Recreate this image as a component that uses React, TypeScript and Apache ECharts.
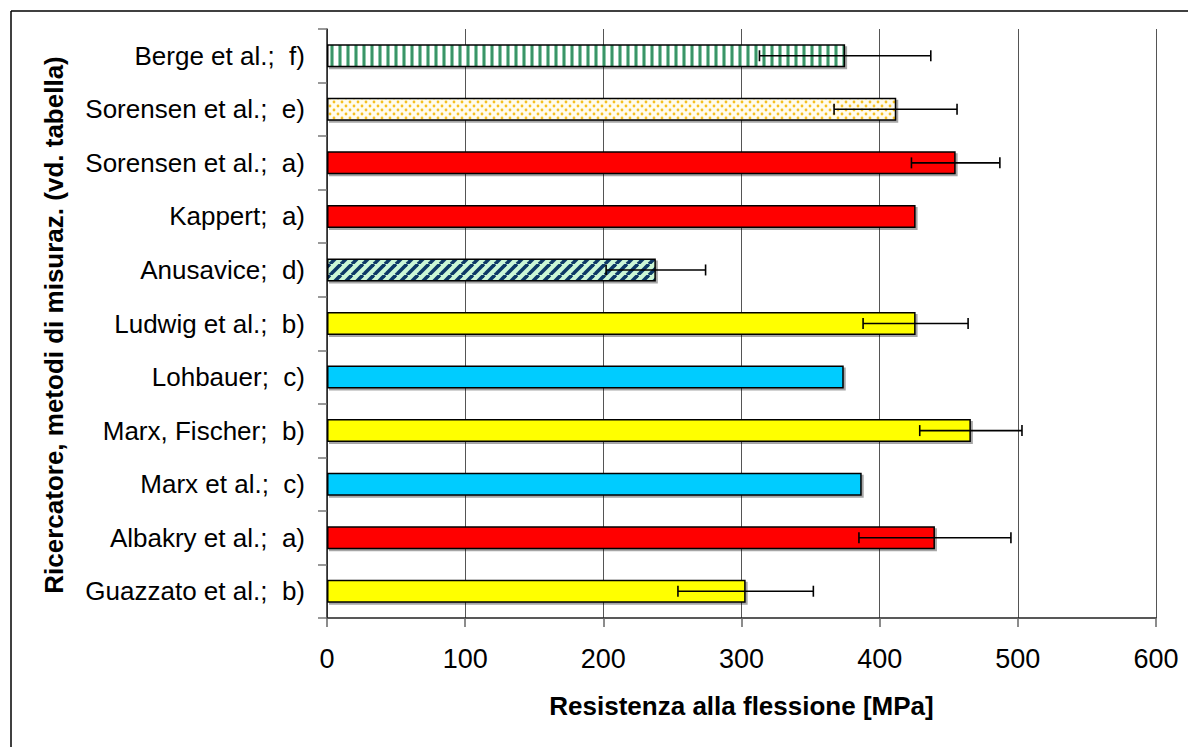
import React, { useEffect, useRef } from "react";
import * as echarts from "echarts";

const categories = [
  "Berge et al.;  f)",
  "Sorensen et al.;  e)",
  "Sorensen et al.;  a)",
  "Kappert;  a)",
  "Anusavice;  d)",
  "Ludwig et al.;  b)",
  "Lohbauer;  c)",
  "Marx, Fischer;  b)",
  "Marx et al.;  c)",
  "Albakry et al.;  a)",
  "Guazzato et al.;  b)",
];
const values = [375, 412, 455, 426, 238, 426, 374, 466, 387, 440, 303];
const errLow = [313, 367, 423, null, 202, 388, null, 429, null, 385, 254];
const errHigh = [437, 456, 487, null, 274, 464, null, 503, null, 495, 352];
const fills = ["stripes", "dots", "red", "red", "diag", "yellow", "cyan", "yellow", "cyan", "red", "yellow"];
const xMin = 0;
const xMax = 600;
const xStep = 100;
const xTitle = "Resistenza alla flessione [MPa]";
const yTitle = "Ricercatore, metodi di misuraz. (vd. tabella)";

function makeCanvas(w: number, h: number, draw: (c: CanvasRenderingContext2D) => void) {
  const cv = document.createElement("canvas");
  cv.width = w;
  cv.height = h;
  const ctx = cv.getContext("2d")!;
  draw(ctx);
  return cv;
}

function buildPatterns() {
  const stripes = makeCanvas(8, 8, (c) => {
    c.fillStyle = "#ffffff";
    c.fillRect(0, 0, 8, 8);
    c.fillStyle = "#8fcbab";
    c.fillRect(2, 0, 4, 8);
    c.fillStyle = "#3a9468";
    c.fillRect(3, 0, 2, 8);
  });
  const dots = makeCanvas(8, 8, (c) => {
    c.fillStyle = "#fffcee";
    c.fillRect(0, 0, 8, 8);
    c.fillStyle = "#f5c020";
    c.beginPath();
    c.arc(2, 2, 1.4, 0, Math.PI * 2);
    c.fill();
    c.beginPath();
    c.arc(6, 6, 1.4, 0, Math.PI * 2);
    c.fill();
  });
  const diag = makeCanvas(11, 11, (c) => {
    c.fillStyle = "#ccf7d6";
    c.fillRect(0, 0, 11, 11);
    c.strokeStyle = "#0a3766";
    c.lineWidth = 3.6;
    for (const off of [-11, 0, 11]) {
      c.beginPath();
      c.moveTo(off, 11);
      c.lineTo(off + 11, 0);
      c.stroke();
    }
  });
  return {
    stripes: { image: stripes, repeat: "repeat" },
    dots: { image: dots, repeat: "repeat" },
    diag: { image: diag, repeat: "repeat" },
    red: "#ff0000",
    yellow: "#ffff00",
    cyan: "#00ccff",
  } as Record<string, any>;
}

export default function App() {
  const ref = useRef<HTMLDivElement>(null);
  useEffect(() => {
    if (!ref.current) return;
    const chart = echarts.init(ref.current, undefined, { renderer: "svg" });
    const pats = buildPatterns();
    const font = "'Liberation Sans', Arial, Helvetica, sans-serif";
    const barData = values.map((v, i) => ({
      value: v,
      itemStyle: { color: pats[fills[i]] },
    }));
    const errData: any[] = [];
    categories.forEach((c, i) => {
      if (errLow[i] != null && errHigh[i] != null) errData.push([errLow[i], i, errHigh[i]]);
    });
    chart.setOption({
      animation: false,
      backgroundColor: "#ffffff",
      textStyle: { fontFamily: font },
      grid: { left: 327, right: 32, top: 29, bottom: 129, containLabel: false },
      xAxis: {
        type: "value",
        min: xMin,
        max: xMax,
        interval: xStep,
        name: xTitle,
        nameLocation: "middle",
        nameGap: 75,
        nameTextStyle: { fontSize: 26, fontWeight: "bold", color: "#000", fontFamily: font },
        axisLine: { show: true, lineStyle: { color: "#222", width: 1.5 } },
        axisTick: { show: true, length: 9, lineStyle: { color: "#666", width: 1.5 } },
        axisLabel: { fontSize: 27, color: "#000", margin: 27, fontFamily: font },
        splitLine: { show: true, lineStyle: { color: "#555", width: 1 } },
      },
      yAxis: {
        type: "category",
        data: categories,
        inverse: true,
        axisLine: { show: true, lineStyle: { color: "#222", width: 1.5 } },
        axisTick: { show: true, length: 9, lineStyle: { color: "#777", width: 1.5 } },
        axisLabel: { fontSize: 26, color: "#000", margin: 22, fontFamily: font },
        splitLine: { show: false },
      },
      graphic: [
        { type: "line", shape: { x1: 11, y1: 11, x2: 1188, y2: 11 }, style: { stroke: "#000", lineWidth: 1.5 } },
        { type: "line", shape: { x1: 11, y1: 11, x2: 11, y2: 747 }, style: { stroke: "#000", lineWidth: 1.5 } },
        {
          type: "text",
          x: 54,
          y: 325,
          rotation: Math.PI / 2,
          style: {
            text: yTitle,
            fontSize: 26,
            fontWeight: "bold",
            fill: "#000",
            fontFamily: font,
            align: "center",
            verticalAlign: "middle",
          },
        },
      ],
      series: [
        {
          type: "bar",
          data: barData,
          barWidth: 23,
          itemStyle: {
            borderColor: "#000",
            borderWidth: 1.5,
            shadowColor: "rgba(0,0,0,0.35)",
            shadowOffsetX: 2,
            shadowOffsetY: 2,
            shadowBlur: 0,
          },
        },
        {
          type: "custom",
          data: errData,
          encode: { x: [0, 2], y: 1 },
          z: 5,
          renderItem: (params: any, api: any) => {
            const cat = api.value(1);
            const p1 = api.coord([api.value(0), cat]);
            const p2 = api.coord([api.value(2), cat]);
            const h = 5.5;
            const st = { stroke: "#000", lineWidth: 1.6 };
            return {
              type: "group",
              children: [
                { type: "line", shape: { x1: p1[0], y1: p1[1], x2: p2[0], y2: p2[1] }, style: st },
                { type: "line", shape: { x1: p1[0], y1: p1[1] - h, x2: p1[0], y2: p1[1] + h }, style: st },
                { type: "line", shape: { x1: p2[0], y1: p2[1] - h, x2: p2[0], y2: p2[1] + h }, style: st },
              ],
            };
          },
        },
      ],
    });
    return () => chart.dispose();
  }, []);
  return (
    <div
      ref={ref}
      style={{ position: "fixed", left: 0, top: 0, width: 1188, height: 747, background: "#fff" }}
    />
  );
}
